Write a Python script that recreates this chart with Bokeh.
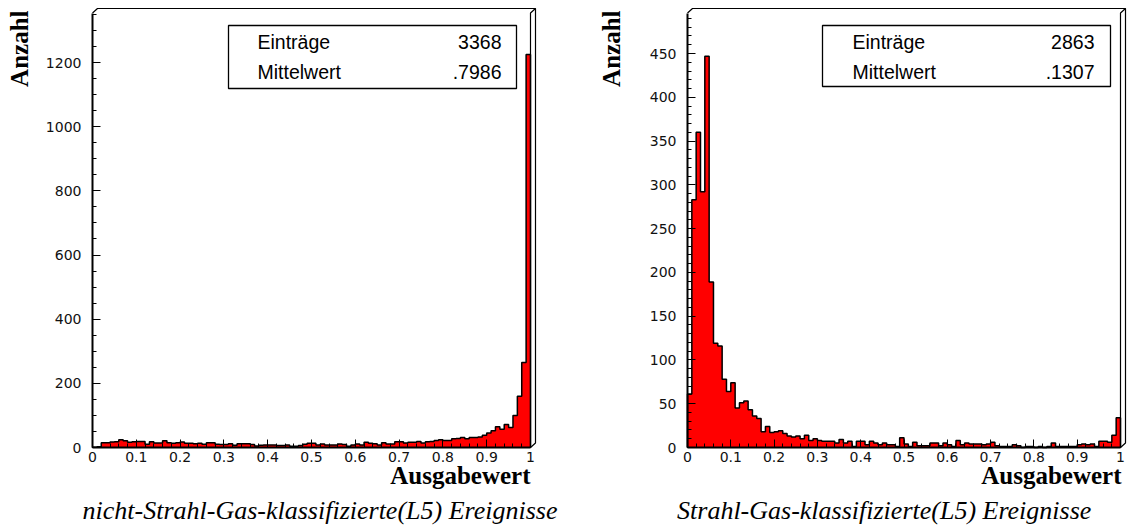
import math
from bokeh.plotting import figure
from bokeh.layouts import row
from bokeh.models import Range1d, FixedTicker, Label
from bokeh.embed import file_html
from bokeh.resources import INLINE

# ---------------- data ----------------
BIN_WIDTH = 0.01
N_BINS = 100

counts_left = [
    1, 2, 15, 15, 17, 18, 24, 21, 16, 18,
    19, 19, 10, 18, 14, 14, 21, 15, 13, 15,
    17, 13, 13, 12, 13, 10, 15, 15, 10, 9,
    9, 12, 7, 12, 12, 12, 9, 5, 7, 8,
    8, 8, 6, 6, 8, 4, 4, 6, 10, 13,
    13, 8, 11, 8, 8, 8, 11, 9, 4, 8,
    11, 8, 16, 13, 12, 8, 15, 11, 11, 18,
    18, 14, 16, 16, 19, 14, 18, 19, 22, 24,
    22, 22, 27, 28, 31, 27, 31, 31, 33, 38,
    45, 52, 65, 57, 72, 62, 100, 160, 265, 1225,
]

counts_right = [
    61, 283, 360, 292, 447, 189, 119, 116, 78, 64,
    74, 45, 51, 53, 43, 36, 33, 18, 24, 17,
    18, 19, 16, 13, 12, 13, 10, 14, 8, 10,
    8, 7, 7, 7, 5, 9, 5, 7, 1, 7,
    7, 3, 7, 5, 3, 5, 3, 3, 1, 11,
    4, 1, 6, 2, 2, 2, 5, 5, 2, 5,
    3, 1, 8, 3, 5, 4, 4, 4, 3, 4,
    6, 2, 1, 1, 1, 3, 2, 0, 1, 1,
    0, 1, 0, 1, 5, 1, 1, 1, 1, 1,
    3, 4, 3, 4, 1, 7, 7, 6, 14, 34,
]

x_ticks = [0, 0.1, 0.2, 0.3, 0.4, 0.5, 0.6, 0.7, 0.8, 0.9, 1.0]
x_tick_labels = ["0", "0.1", "0.2", "0.3", "0.4", "0.5", "0.6", "0.7", "0.8", "0.9", "1"]
x_minor_step = 0.02

left_y_ticks = [0, 200, 400, 600, 800, 1000, 1200]
left_y_minor_step = 50
right_y_ticks = [0, 50, 100, 150, 200, 250, 300, 350, 400, 450]
right_y_minor_step = 10

stat_names = ["Einträge", "Mittelwert"]
left_stats = ["3368", ".7986"]
right_stats = ["2863", ".1307"]

y_label = "Anzahl"
x_label = "Ausgabewert"
left_title = "nicht-Strahl-Gas-klassifizierte(L5) Ereignisse"
right_title = "Strahl-Gas-klassifizierte(L5) Ereignisse"

# ---------------- layout (pixels, local to each panel) ----------------
H = 529
Y0_PX = 447      # pixel row of count 0
DEPTH = 5        # 3D frame depth in px


def make_panel(counts, width, x0, x1, yref_val, yref_px, yticks, yminor_step,
               stats, title, box, text_left, text_right, ylab_x, xlab_right, title_cx):
    sx = x1 - x0
    sy = (Y0_PX - yref_px) / yref_val

    def X(px):
        return (px - x0) / sx

    def Y(py):
        return (Y0_PX - py) / sy

    p = figure(width=width, height=H, output_backend="svg", toolbar_location=None,
               title=None,
               x_range=Range1d(X(0), X(width)), y_range=Range1d(Y(H), Y(0)),
               min_border_left=0, min_border_right=0, min_border_top=0, min_border_bottom=0)
    p.outline_line_color = None
    p.xgrid.visible = False
    p.ygrid.visible = False
    p.background_fill_color = "white"
    p.border_fill_color = "white"

    # histogram: filled step area + black outline
    edges = [i * BIN_WIDTH for i in range(N_BINS + 1)]
    xs, ys = [0.0], [0.0]
    for i, c in enumerate(counts):
        xs += [edges[i], edges[i + 1]]
        ys += [c, c]
    xs.append(edges[-1])
    ys.append(0.0)
    p.patch(xs, ys, fill_color="#ff0000", line_color=None)
    p.line(xs, ys, line_color="black", line_width=1.5)

    # 3D frame
    inner_top = Y(12.5)
    outer_top = Y(8)
    xo = X(x1 + DEPTH)
    p.line([0, X(x0 + DEPTH), xo, xo, 1.0],
           [inner_top, outer_top, outer_top, Y(Y0_PX - 4.5), 0],
           line_color="black", line_width=1.2)
    p.line([1.0, 1.0, xo], [0, inner_top, outer_top], line_color="black", line_width=1.2)

    # axes (fixed at the data origin)
    ymax_tick = Y(12.5)
    yminor = [v * yminor_step for v in range(int(ymax_tick // yminor_step) + 1)]
    xminor = [round(i * x_minor_step, 4) for i in range(int(round(1 / x_minor_step)) + 1)]
    p.xaxis.ticker = FixedTicker(ticks=x_ticks, minor_ticks=xminor)
    p.xaxis.major_label_overrides = {t: l for t, l in zip(x_ticks, x_tick_labels)}
    p.yaxis.ticker = FixedTicker(ticks=yticks, minor_ticks=yminor)
    p.xaxis.bounds = (0, 1)
    p.yaxis.bounds = (0, ymax_tick)
    p.xaxis.fixed_location = 0
    p.yaxis.fixed_location = 0
    for ax in (p.xaxis, p.yaxis):
        ax.axis_line_width = 2
        ax.axis_line_color = "black"
        ax.major_tick_in = 8
        ax.major_tick_out = 0
        ax.minor_tick_in = 4
        ax.minor_tick_out = 0
        ax.major_tick_line_color = "black"
        ax.minor_tick_line_color = "black"
        ax.major_label_text_font = "DejaVu Sans"
        ax.major_label_text_font_size = "14px"
        ax.major_label_text_color = "#111111"
    p.xaxis.major_label_standoff = 4
    p.yaxis.major_label_standoff = 11

    # stats box
    bl, bt, br, bb = box
    p.quad(left=X(bl), right=X(br), top=Y(bt), bottom=Y(bb),
           fill_color="white", line_color="black", line_width=1.3)
    for k, (name, val) in enumerate(zip(stat_names, stats)):
        yy = Y(41 + 30 * k)
        p.add_layout(Label(x=X(text_left), y=yy, text=name, text_font="Liberation Sans",
                           text_font_size="19.5px", text_baseline="middle", text_align="left",
                           text_color="black"))
        p.add_layout(Label(x=X(text_right), y=yy, text=val, text_font="Liberation Sans",
                           text_font_size="19.5px", text_baseline="middle", text_align="right",
                           text_color="black"))

    # axis titles and caption
    p.add_layout(Label(x=X(ylab_x), y=Y(10), text=y_label, angle=math.pi / 2,
                       text_font="Liberation Serif", text_font_style="bold",
                       text_font_size="25px", text_align="right", text_baseline="alphabetic",
                       text_color="black"))
    p.add_layout(Label(x=X(xlab_right), y=Y(475), text=x_label,
                       text_font="Liberation Serif", text_font_style="bold",
                       text_font_size="25px", text_align="right", text_baseline="alphabetic",
                       text_color="black"))
    p.add_layout(Label(x=X(title_cx), y=Y(510), text=title,
                       text_font="Liberation Serif", text_font_style="italic",
                       text_font_size="26px", text_align="center", text_baseline="alphabetic",
                       text_color="black"))
    return p


p_left = make_panel(counts_left, 590, 92, 530, 1200, 62, left_y_ticks, left_y_minor_step,
                    left_stats, left_title, (228, 25, 516, 88), 257, 501, 19, 530, 319.5)
p_right = make_panel(counts_right, 537, 97, 530, 450, 53, right_y_ticks, right_y_minor_step,
                     right_stats, right_title, (232, 25, 520, 86), 262, 504, 21, 531, 293.7)

layout = row(p_left, p_right)
open("out.html", "w").write(file_html(layout, INLINE))
